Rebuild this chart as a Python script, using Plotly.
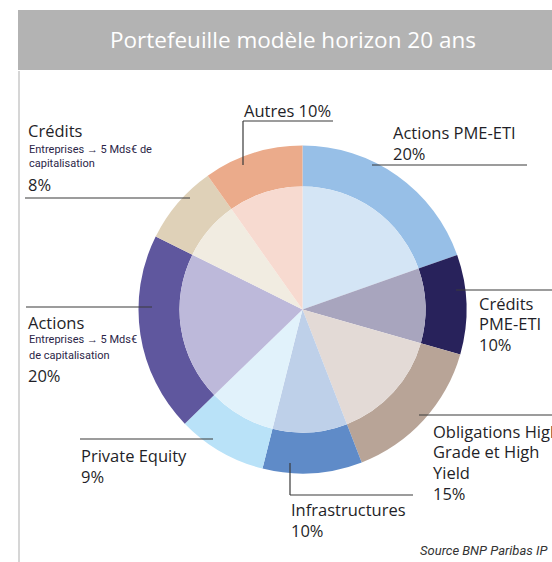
import plotly.graph_objects as go

W, H = 552, 562

# ---- data ----
categories = ["Actions PME-ETI", "Crédits PME-ETI", "Obligations High Grade et High Yield",
              "Infrastructures", "Private Equity", "Actions", "Crédits", "Autres"]
values = [20, 10, 15, 10, 9, 20, 8, 10]
outer_colors = ["#97BFE7", "#28225B", "#B8A497", "#5F8BC8", "#B9E2F8", "#5F579E", "#DFD1B8", "#EBAB8B"]
inner_colors = ["#D4E5F5", "#A8A5BE", "#E3DAD6", "#BED0E9", "#E1F2FB", "#BDB9DA", "#F1ECE1", "#F7DAD0"]
title_text = "Portefeuille modèle horizon 20 ans"
source_text = "Source BNP Paribas IP"

def px(x):
    return x / W

def py(y):
    return 1 - y / H

cx, cy, R, r_in = 302.5, 309.5, 164, 123

def dom(rad):
    return dict(x=[px(cx - rad), px(cx + rad)], y=[py(cy + rad), py(cy - rad)])

fig = go.Figure()
fig.add_trace(go.Pie(values=values, labels=categories, hole=r_in / R, sort=False,
                     direction="clockwise", rotation=0,
                     marker=dict(colors=outer_colors, line=dict(width=0)),
                     textinfo="none", hoverinfo="label+percent", showlegend=False,
                     domain=dom(R)))
fig.add_trace(go.Pie(values=values, labels=categories, hole=0, sort=False,
                     direction="clockwise", rotation=0,
                     marker=dict(colors=inner_colors, line=dict(width=0)),
                     textinfo="none", hoverinfo="label+percent", showlegend=False,
                     domain=dom(r_in)))

shapes = []
# banner
shapes.append(dict(type="rect", xref="paper", yref="paper", x0=px(18), x1=px(W), y0=py(70), y1=py(10),
                   fillcolor="#B3B3B3", line=dict(width=0), layer="below"))
# left frame line
shapes.append(dict(type="line", xref="paper", yref="paper", x0=px(19), x1=px(19), y0=py(71), y1=py(H),
                   line=dict(color="#C8C8C8", width=1.5)))

LC = "#3a3a3a"
def seg(x0, y0, x1, y1):
    shapes.append(dict(type="line", xref="paper", yref="paper", x0=px(x0), x1=px(x1),
                       y0=py(y0), y1=py(y1), line=dict(color=LC, width=1.2)))

# leader lines
seg(243, 121, 333, 121); seg(243, 121, 243, 165)          # Autres
seg(372, 165, 527, 165)                                     # Actions PME-ETI
seg(25, 198, 190, 198)                                      # Crédits
seg(456, 290, W, 290)                                       # Crédits PME-ETI
seg(419, 415, W, 415)                                       # Obligations
seg(290, 463, 290, 495); seg(290, 495, 413, 495)            # Infrastructures
seg(80, 439, 213, 439)                                      # Private Equity
seg(26, 307, 152, 307)                                      # Actions

ann = []
TC = "#1f1f28"
FONT = "Open Sans"
def txt(x, y, s, size=16.5, color=TC, family=FONT, xanchor="left"):
    ann.append(dict(x=px(x), y=py(y), xref="paper", yref="paper", text=s, showarrow=False,
                    xanchor=xanchor, yanchor="middle", font=dict(size=size, color=color, family=family)))

SMALL = dict(size=11, color="#2b2547", family="Roboto")
pct = [f"{v}%" for v in values]

txt(293, 40, title_text, size=22.5, color="white", xanchor="center")
# Autres
txt(242, 110, f"{categories[7]} {pct[7]}")
# Actions PME-ETI
txt(391, 133, categories[0]); txt(391, 153, pct[0])
# Crédits
txt(26, 131, categories[6])
txt(27, 149, "Entreprises → 5 Mds€ de", **SMALL)
txt(27, 164, "capitalisation", **SMALL)
txt(26, 184, pct[6])
# Crédits PME-ETI
txt(477, 303, "Crédits"); txt(477, 323, "PME-ETI"); txt(477, 344, pct[1])
# Obligations
txt(431, 431, "Obligations High"); txt(431, 451, "Grade et High"); txt(431, 472, "Yield"); txt(431, 493, pct[2])
# Infrastructures
txt(289, 509, categories[3]); txt(289, 530, pct[3])
# Private Equity
txt(79, 455, categories[4]); txt(79, 476, pct[4])
# Actions
txt(26, 322, categories[5])
txt(27, 339, "Entreprises → 5 Mds€", **SMALL)
txt(27, 355, "de capitalisation", **SMALL)
txt(26, 375, pct[5])
# Source
txt(550, 550, "<i>" + source_text + "</i>", size=13, color="#333333", family="Roboto", xanchor="right")

fig.update_layout(width=W, height=H, margin=dict(l=0, r=0, t=0, b=0),
                  paper_bgcolor="white", plot_bgcolor="white",
                  shapes=shapes, annotations=ann, showlegend=False)
fig.write_html("out.html", config={"displayModeBar": False},
               post_script="document.body.style.margin='0px';")
